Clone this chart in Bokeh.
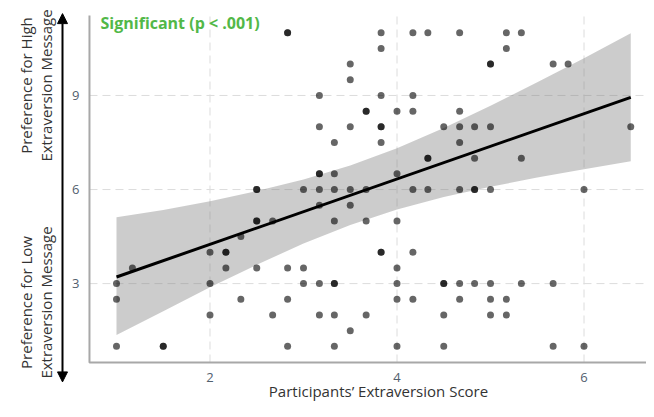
import math
from bokeh.plotting import figure
from bokeh.models import Range1d, Label, Arrow, NormalHead
from bokeh.core.properties import value
from bokeh.embed import file_html
from bokeh.resources import INLINE

# participants' extraversion score (x) and message preference (y); darker dots = two overlapping points
extraversion = [
    2.83, 2.83, 3.83, 4.17, 4.33, 4.67, 5.17, 5.33,
    3.83, 5.17,
    3.5, 5.0, 5.0, 5.67, 5.83,
    3.5,
    3.17, 3.83, 4.17,
    3.67, 3.67, 4.0, 4.17, 4.67,
    3.17, 3.5, 3.83, 3.83, 4.5, 4.67, 4.83, 5.0, 6.5,
    3.33, 3.83, 4.67,
    4.33, 4.33, 4.83, 5.33,
    3.17, 3.17, 3.33, 4.0,
    2.5, 2.5, 3.0, 3.17, 3.33, 3.5, 3.67, 4.17, 4.33, 4.67, 4.83, 4.83, 5.0, 6.0,
    3.17, 3.5,
    2.5, 2.5, 2.67, 3.33, 3.67, 4.0,
    2.33,
    2.0, 2.17, 2.17, 3.83, 3.83, 4.17,
    1.17, 2.17, 2.5, 2.83, 3.0, 4.0,
    1.0, 2.0, 3.0, 3.17, 3.33, 3.33, 4.0, 4.5, 4.5, 4.67, 4.83, 5.0, 5.33, 5.67,
    1.0, 2.33, 2.83, 4.0, 4.17, 4.67, 5.0, 5.17,
    2.0, 2.67, 3.17, 3.33, 3.67, 4.5, 5.0, 5.17,
    3.5,
    1.0, 1.5, 1.5, 2.83, 3.33, 4.0, 4.5, 5.67, 6.0,
]
preference = (
    [11] * 8 + [10.5] * 2 + [10] * 5 + [9.5] * 1 + [9] * 3 + [8.5] * 5 + [8] * 9
    + [7.5] * 3 + [7] * 4 + [6.5] * 4 + [6] * 14 + [5.5] * 2 + [5] * 6 + [4.5] * 1
    + [4] * 6 + [3.5] * 6 + [3] * 14 + [2.5] * 8 + [2] * 8 + [1.5] * 1 + [1] * 9
)

# fitted regression line and its confidence band
fit_x = [1.0, 6.5]
fit_y = [3.21, 8.94]
band_x = [1.0, 1.5, 2.0, 2.5, 3.0, 3.5, 4.0, 4.5, 5.0, 5.5, 6.0, 6.5]
band_lower = [1.36, 2.12, 2.88, 3.60, 4.28, 4.87, 5.36, 5.76, 6.09, 6.38, 6.65, 6.90]
band_upper = [5.12, 5.35, 5.63, 5.95, 6.32, 6.77, 7.32, 7.96, 8.67, 9.42, 10.19, 10.98]

x_ticks = [2, 4, 6]
x_tick_labels = ["2", "4", "6"]
y_ticks = [3, 6, 9]
y_tick_labels = ["3", "6", "9"]

FONT = "Open Sans"
W, H = 646, 401

# plot-area limits (data units); the frame covers the whole canvas so outer texts are not clipped
X0, X1 = 0.711, 6.668
Y0, Y1 = 0.484, 11.55

p = figure(width=W, height=H, output_backend="svg", toolbar_location=None,
           x_range=Range1d(-0.2406, 6.6684), y_range=Range1d(-0.7598, 12.0284),
           x_axis_location=None, y_axis_location=None,
           min_border=0, min_border_left=0, min_border_right=0,
           min_border_top=0, min_border_bottom=0)
p.outline_line_color = None
p.background_fill_color = "white"
p.border_fill_color = "white"
p.grid.visible = False

grid_style = dict(line_color="#dcdcdc", line_width=1, line_dash="8 5")
p.segment(x0=x_ticks, y0=[Y0] * len(x_ticks), x1=x_ticks, y1=[Y1] * len(x_ticks), **grid_style)
p.segment(x0=[X0] * len(y_ticks), y0=y_ticks, x1=[X1] * len(y_ticks), y1=y_ticks, **grid_style)

p.varea(x=band_x, y1=band_lower, y2=band_upper, fill_color="#808080", fill_alpha=0.4)
p.scatter(extraversion, preference, size=7, fill_color="black", fill_alpha=0.6, line_color=None)
p.line(fit_x, fit_y, line_color="black", line_width=3)

# axis lines
p.line([X0, X0, X1], [Y1, Y0, Y0], line_color="#a8a8a8", line_width=2)

# tick labels
p.text(x=x_ticks, y=[Y0] * len(x_ticks), text=x_tick_labels, y_offset=15,
       text_font=value(FONT), text_font_size="13px", text_color="#52606e",
       text_align="center", text_baseline="middle")
p.text(x=[X0] * len(y_ticks), y=y_ticks, text=y_tick_labels, x_offset=-10,
       text_font=value(FONT), text_font_size="13px", text_color="#52606e",
       text_align="right", text_baseline="middle")

p.add_layout(Label(x=100, y=379, x_units="screen", y_units="screen",
                   text="Significant (p < .001)", text_font=FONT,
                   text_font_size="16px", text_font_style="bold", text_color="#52b848",
                   text_baseline="middle", text_align="left"))
p.add_layout(Label(x=378, y=11, x_units="screen", y_units="screen",
                   text="Participants\u2019 Extraversion Score", text_font=FONT,
                   text_font_size="15px", text_color="#333333",
                   text_baseline="middle", text_align="center"))
for txt, xx, yy in [("Preference for High", 25, 316), ("Extraversion Message", 45, 316),
                    ("Preference for Low", 25, 99), ("Extraversion Message", 45, 99)]:
    p.add_layout(Label(x=xx, y=yy, x_units="screen", y_units="screen", text=txt,
                       angle=math.pi / 2, text_font=FONT,
                       text_font_size="15px", text_color="#333333",
                       text_baseline="middle", text_align="center"))

head = dict(size=10, fill_color="black", line_color="black")
p.add_layout(Arrow(start=NormalHead(**head), end=NormalHead(**head),
                   x_start=0.4225, y_start=-0.135, x_end=0.4225, y_end=11.61,
                   line_color="black", line_width=2))

open("out.html", "w").write(file_html(p, INLINE))
